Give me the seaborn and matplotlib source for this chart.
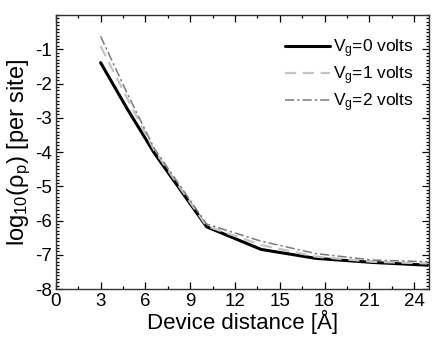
import numpy as np
import pandas as pd
import matplotlib
matplotlib.use('Agg')
from matplotlib import pyplot as plt
from matplotlib.ticker import MultipleLocator
import seaborn as sns

# data
distance = [3.0, 4.8, 6.6, 10.1, 13.75, 17.4, 21.2, 24.9]
vg0 = [-1.39, -2.75, -4.03, -6.18, -6.84, -7.10, -7.22, -7.30]
vg1 = [-0.91, -2.45, -3.95, -6.16, -6.71, -7.05, -7.20, -7.25]
vg2 = [-0.62, -2.30, -3.90, -6.10, -6.60, -6.96, -7.15, -7.20]
labels = ['V$_g$=0 volts', 'V$_g$=1 volts', 'V$_g$=2 volts']

sns.set_style('ticks')
plt.rcParams['font.family'] = ['Liberation Sans', 'DejaVu Sans']
plt.rcParams['mathtext.default'] = 'regular'
plt.rcParams['axes.unicode_minus'] = False
for k in ['text.color', 'axes.labelcolor', 'xtick.color', 'ytick.color', 'axes.edgecolor']:
    plt.rcParams[k] = 'black'

fig = plt.figure(figsize=(4.36, 3.41), dpi=100)
ax = fig.add_axes([0.128, 0.152, 0.856, 0.804])

sns.lineplot(x=distance, y=vg0, color='black', lw=2.2, label=labels[0], ax=ax)
sns.lineplot(x=distance, y=vg1, color='#c4c4c4', lw=1.6, ls=(0, (5, 3)), label=labels[1], ax=ax)
sns.lineplot(x=distance, y=vg2, color='#7a7a7a', lw=1.1, ls=(0, (6, 2, 1.5, 2)), label=labels[2], ax=ax)

ax.set_xlim(0, 25)
ax.set_ylim(-8, 0)
ax.xaxis.set_major_locator(MultipleLocator(3))
ax.xaxis.set_minor_locator(MultipleLocator(1.5))
ax.yaxis.set_minor_locator(MultipleLocator(0.1))
ax.set_yticks([-8, -7, -6, -5, -4, -3, -2, -1])
ax.tick_params(which='both', direction='in', top=True, right=True, width=0.9)
ax.tick_params(which='major', length=5, labelsize=13.5, pad=3)
ax.tick_params(which='minor', length=2.5)
for s in ax.spines.values():
    s.set_linewidth(1.0)
    s.set_color('#333333')

ax.set_xlabel('Device distance [Å]', fontsize=16, labelpad=0)
ax.set_ylabel('log$_{10}$($\\rho_p$) [per site]', fontsize=17, labelpad=1)

leg = ax.legend(loc='upper right', frameon=False, fontsize=12.5, handlelength=2.6,
                handletextpad=0.15, labelspacing=0.25, bbox_to_anchor=(1.0, 0.975))

fig.savefig('out.png', dpi=100)
